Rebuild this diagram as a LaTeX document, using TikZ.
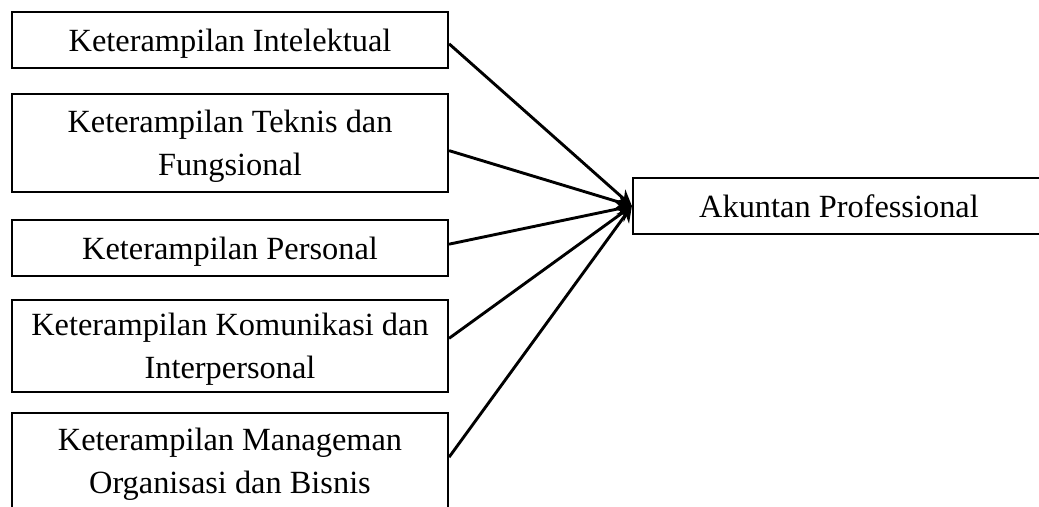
\documentclass[tikz,border=0pt]{standalone}
\usepackage{fontspec}
\setmainfont{Liberation Serif}
\usetikzlibrary{positioning, arrows.meta}
\tikzstyle{arrow} = [line width=1.1pt,->,>={Stealth[length=6pt,width=6pt]}]
\tikzstyle{skill} = [rectangle, draw, line width=0.8pt, minimum width=165.7pt, inner sep=0pt, text depth=0pt, align=center, font=\fontsize{12.3}{16.3}\selectfont]

\begin{document}
\begin{tikzpicture}[x=0.38pt, y=-0.38pt]
  \useasboundingbox (0,0) rectangle (1039,507);
  \clip (0,0) rectangle (1039,507);

  % Skill boxes on the left
  \node[skill, minimum height=21.3pt] (intel) at (230,40) {Keterampilan Intelektual};
  \node[skill, minimum height=37.2pt] (teknis) at (230,143) {Keterampilan Teknis dan\\Fungsional};
  \node[skill, minimum height=21.3pt] (personal) at (230,248) {Keterampilan Personal};
  \node[skill, minimum height=35pt] (komunikasi) at (230,346) {Keterampilan Komunikasi dan\\Interpersonal};
  \node[skill, minimum height=36.5pt] (manajemen) at (230,461) {Keterampilan Manageman\\Organisasi dan Bisnis};

  % Target box
  \node[skill, minimum width=156.6pt, minimum height=21.3pt] (akuntan) at (839,206) {Akuntan Professional};

  % Arrows into the target
  \draw[arrow] (intel.-1.8) -- (akuntan.west);
  \draw[arrow] (teknis.-2.6) -- (akuntan.west);
  \draw[arrow] (personal.1.6) -- (akuntan.west);
  \draw[arrow] (komunikasi.2.9) -- (akuntan.west);
  \draw[arrow] (manajemen.1.6) -- (akuntan.west);
\end{tikzpicture}
\end{document}
